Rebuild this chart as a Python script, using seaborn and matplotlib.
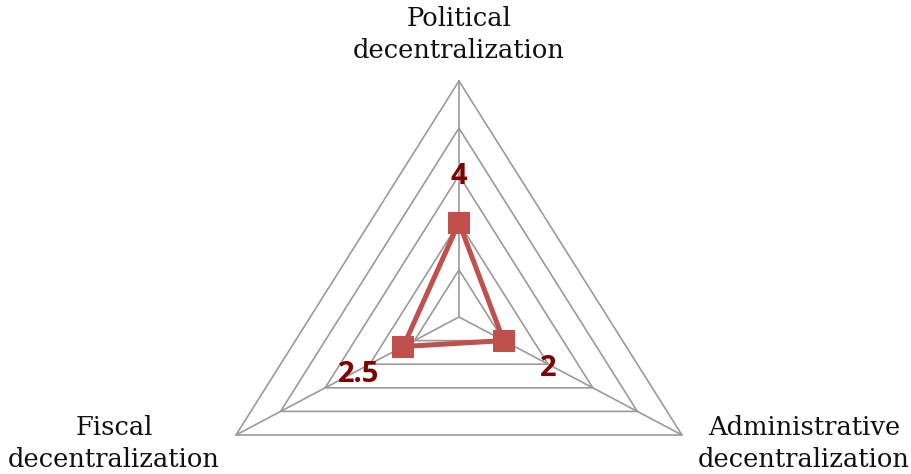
import numpy as np
import pandas as pd
import matplotlib
matplotlib.use("Agg")
import matplotlib.pyplot as plt
import seaborn as sns

# data
categories = ["Political\ndecentralization", "Administrative\ndecentralization", "Fiscal\ndecentralization"]
values = [4, 2, 2.5]
value_labels = ["4", "2", "2.5"]
grid_levels = [2, 4, 6, 8, 10]

sns.set_style("white")
plt.rcParams["font.family"] = ["DejaVu Sans"]

n = len(categories)
theta = np.arange(n) * 2 * np.pi / n
theta_closed = np.append(theta, theta[0])

fig = plt.figure(figsize=(9.12, 4.74), dpi=100)
# excel stretches the radar a bit wider than tall
ax = fig.add_axes([0.2209, -0.1667, 0.5647, 0.9958], projection="polar")
ax.set_aspect("auto")
ax.set_theta_offset(np.pi / 2)
ax.set_theta_direction(-1)
ax.set_ylim(0, grid_levels[-1])
ax.grid(False)
ax.set_xticks([])
ax.set_yticks([])
ax.spines["polar"].set_visible(False)
ax.patch.set_alpha(0)

grid_col = "#9a9a9a"
for lev in grid_levels:
    ax.plot(theta_closed, [lev] * (n + 1), color=grid_col, lw=1.2, clip_on=False, zorder=1)
for t in theta:
    ax.plot([t, t], [0, grid_levels[-1]], color=grid_col, lw=1.2, clip_on=False, zorder=1)

df = pd.DataFrame({"theta": theta_closed, "value": values + values[:1]})
sns.lineplot(data=df, x="theta", y="value", sort=False, estimator=None, ax=ax,
             color="#C0504D", lw=3.6, marker="s", markersize=15.5,
             markeredgewidth=0, zorder=3)
ax.set_xlabel("")
ax.set_ylabel("")

for t, v, lab in zip(theta, values, value_labels):
    dy = 33.5 * np.cos(t) if np.cos(t) > 0 else 36 * np.cos(t) - 2
    ax.annotate(lab, xy=(t, v), xytext=(37 * np.sin(t), dy),
                textcoords="offset points", ha="center", va="center",
                fontsize=21, fontweight="bold", family="Open Sans", color="#7F0000", zorder=4)

# baseline of the last line of each label
label_pos = [(459, 58), (804, 467), (114, 467)]
for lab, (px, py) in zip(categories, label_pos):
    fig.text(px / 912, 1 - py / 474, lab, ha="center", va="baseline",
             fontsize=18.5, family="DejaVu Serif", color="#111111", linespacing=1.35)

fig.savefig("out.png", dpi=100)
